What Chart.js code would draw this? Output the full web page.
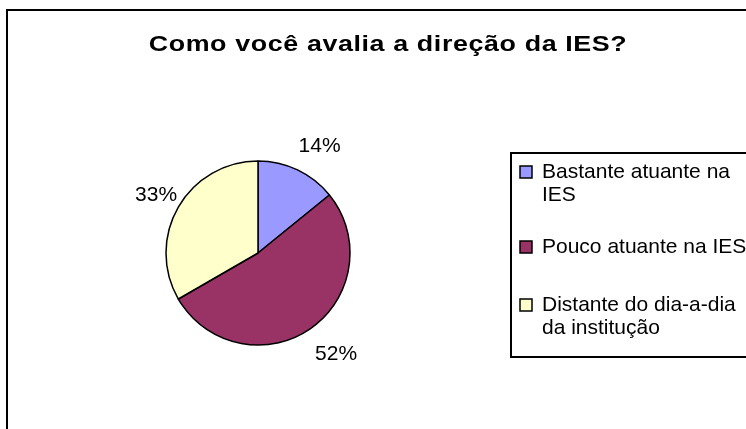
<!DOCTYPE html>
<html>
<head>
<meta charset="utf-8">
<script src="https://cdn.jsdelivr.net/npm/chart.js@4/dist/chart.umd.min.js"></script>
<style>
  html, body { margin: 0; padding: 0; background: #fff; overflow: hidden; }
  #wrap { position: relative; width: 746px; height: 429px; }
  #frame {
    position: absolute; left: 6px; top: 9px; width: 780px; height: 460px;
    border: 2px solid #000;
  }
  #chart { position: absolute; left: 0; top: 0; }
</style>
</head>
<body>
<div id="wrap">
  <div id="frame"></div>
  <canvas id="chart" width="746" height="429"></canvas>
</div>
<script>
const chartTitle = "Como você avalia a direção da IES?";
const categories = [
  "Bastante atuante na IES",
  "Pouco atuante na IES",
  "Distante do dia-a-dia da institução",
];
// legend text as it wraps in the original
const legendLines = [
  ["Bastante atuante na", "IES"],
  ["Pouco atuante na IES"],
  ["Distante do dia-a-dia", "da institução"],
];
const values = [14, 52, 33];
const sliceColors = ["#9999FF", "#993366", "#FFFFCC"];

const FONT = "'Liberation Sans', Arial, sans-serif";

// title, stretched sideways like the original
const titlePlugin = {
  id: "spacedTitle",
  afterDraw(chart) {
    const ctx = chart.ctx;
    const sx = 1.22;
    ctx.save();
    ctx.font = "bold 22px " + FONT;
    ctx.letterSpacing = "0.5px";
    ctx.fillStyle = "#000";
    ctx.textAlign = "center";
    ctx.textBaseline = "alphabetic";
    ctx.translate(388, 51);
    ctx.scale(sx, 1);
    ctx.fillText(chartTitle, 0, 0);
    ctx.restore();
  },
};

// percentage labels outside each slice
const pctLabels = {
  id: "pctLabels",
  afterDatasetsDraw(chart) {
    const ctx = chart.ctx;
    const meta = chart.getDatasetMeta(0);
    ctx.save();
    ctx.font = "21px " + FONT;
    ctx.fillStyle = "#000";
    ctx.textAlign = "center";
    ctx.textBaseline = "middle";
    meta.data.forEach(function (arc, i) {
      const mid = (arc.startAngle + arc.endAngle) / 2;
      const r = arc.outerRadius + 28;
      const dx = Math.cos(mid), dy = Math.sin(mid);
      const x = arc.x + dx * r + (dx > 0 ? 10 : 2);
      const y = arc.y + dy * r + 2;
      ctx.fillText(values[i] + "%", x, y);
    });
    ctx.restore();
  },
};

// boxed legend on the right, like the spreadsheet one
const boxLegend = {
  id: "boxLegend",
  afterDraw(chart) {
    const ctx = chart.ctx;
    const left = 511, top = 153, bottom = 357;
    const rowY = [172, 247, 305];
    const lineH = 23;
    ctx.save();
    ctx.lineWidth = 2;
    ctx.strokeStyle = "#000";
    ctx.strokeRect(left, top, 300, bottom - top);
    ctx.font = "21px " + FONT;
    ctx.textBaseline = "middle";
    ctx.textAlign = "left";
    legendLines.forEach(function (lines, i) {
      const y = rowY[i];
      ctx.fillStyle = sliceColors[i];
      ctx.fillRect(520, y - 6, 12, 12);
      ctx.lineWidth = 1.5;
      ctx.strokeRect(520, y - 6, 12, 12);
      ctx.fillStyle = "#000";
      lines.forEach(function (t, k) {
        ctx.fillText(t, 542, y + k * lineH);
      });
    });
    ctx.restore();
  },
};

new Chart(document.getElementById("chart").getContext("2d"), {
  type: "pie",
  data: {
    labels: categories,
    datasets: [
      {
        data: values,
        backgroundColor: sliceColors,
        borderColor: "#000",
        borderWidth: 1.5,
        hoverOffset: 0,
      },
    ],
  },
  options: {
    responsive: false,
    animation: false,
    radius: 92,
    layout: {
      padding: { left: 166, right: 396, top: 161, bottom: 84 },
    },
    plugins: {
      legend: { display: false },
      title: { display: false },
      tooltip: { enabled: false },
    },
  },
  plugins: [pctLabels, boxLegend, titlePlugin],
});
</script>
</body>
</html>
